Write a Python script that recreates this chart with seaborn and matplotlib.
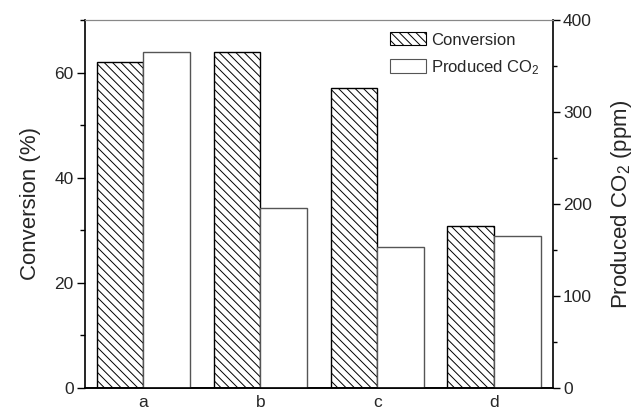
import matplotlib
matplotlib.use("Agg")
import matplotlib.pyplot as plt
import seaborn as sns
import pandas as pd
from matplotlib.patches import Patch
from matplotlib.ticker import MultipleLocator

samples = ["a", "b", "c", "d"]
conversion = [62.0, 63.9, 57.0, 30.9]
produced_co2 = [365, 196, 153, 165]
series = ["Conversion", "Produced CO2"]

sns.set_theme(style="ticks")
plt.rcParams["font.family"] = ["Liberation Sans", "DejaVu Sans"]
plt.rcParams["mathtext.fontset"] = "custom"
plt.rcParams["mathtext.rm"] = "Liberation Sans"
plt.rcParams["mathtext.it"] = "Liberation Sans"
plt.rcParams["mathtext.default"] = "regular"
plt.rcParams["hatch.linewidth"] = 0.7

df_conv = pd.DataFrame({"sample": samples, "value": conversion, "series": series[0]})
df_co2 = pd.DataFrame({"sample": samples, "value": produced_co2, "series": series[1]})

fig = plt.figure(figsize=(6.38, 4.11), dpi=100)
ax1 = fig.add_axes([0.1332, 0.056, 0.7331, 0.8953])
ax2 = ax1.twinx()

pal = {series[0]: "white", series[1]: "white"}
sns.barplot(data=df_conv, x="sample", y="value", hue="series", hue_order=series,
            palette=pal, order=samples, dodge=True, width=0.8, saturation=1,
            legend=False, ax=ax1, linewidth=1.0, edgecolor="black")
sns.barplot(data=df_co2, x="sample", y="value", hue="series", hue_order=series,
            palette=pal, order=samples, dodge=True, width=0.8, saturation=1,
            legend=False, ax=ax2, linewidth=1.0, edgecolor="#555555")

for p in ax1.patches:
    p.set_hatch("\\\\\\\\")
    p.set_edgecolor("black")
for p in ax2.patches:
    p.set_edgecolor("#555555")

ax1.set_xlim(-0.5, 3.5)
ax1.set_ylim(0, 70)
ax2.set_ylim(0, 400)

ax1.set_xlabel("")
ax2.set_xlabel("")
ax1.set_ylabel("Conversion (%)", fontsize=16, labelpad=10)
ax2.set_ylabel("Produced CO$_2$ (ppm)", fontsize=16, labelpad=12)

ax1.yaxis.set_major_locator(MultipleLocator(20))
ax1.yaxis.set_minor_locator(MultipleLocator(10))
ax2.yaxis.set_major_locator(MultipleLocator(100))
ax2.yaxis.set_minor_locator(MultipleLocator(50))

ax1.tick_params(axis="y", which="major", direction="out", length=5.5, width=1.0,
                labelsize=12.5, pad=2.5, color="black")
ax1.tick_params(axis="y", which="minor", direction="out", length=3.5, width=1.0, color="black")
ax2.tick_params(axis="y", which="major", direction="out", length=5, width=1.0,
                labelsize=12.5, pad=2.5, color="black")
ax2.tick_params(axis="y", which="minor", direction="out", length=3, width=1.0, color="black")
ax1.tick_params(axis="x", length=0, labelsize=12.5, pad=5)
ax2.tick_params(axis="x", length=0)

for ax in (ax1, ax2):
    for s in ["left", "bottom", "right"]:
        ax.spines[s].set_color("black")
        ax.spines[s].set_linewidth(1.2)
    ax.spines["top"].set_color("#888888")
    ax.spines["top"].set_linewidth(0.8)
    ax.grid(False)
ax1.spines["right"].set_visible(False)
ax2.spines["left"].set_visible(False)
ax2.set_facecolor("none")

handles = [
    Patch(facecolor="white", edgecolor="black", hatch="\\\\\\\\", linewidth=0.8, label="Conversion"),
    Patch(facecolor="white", edgecolor="#555555", linewidth=0.8, label="Produced CO$_2$"),
]
ax2.legend(handles=handles, loc="upper left", bbox_to_anchor=(0.652, 0.967),
           frameon=False, fontsize=12, handlelength=2.15, handleheight=0.85,
           handletextpad=0.3, labelspacing=0.62, borderpad=0, borderaxespad=0)

fig.savefig("out.png", dpi=100)
